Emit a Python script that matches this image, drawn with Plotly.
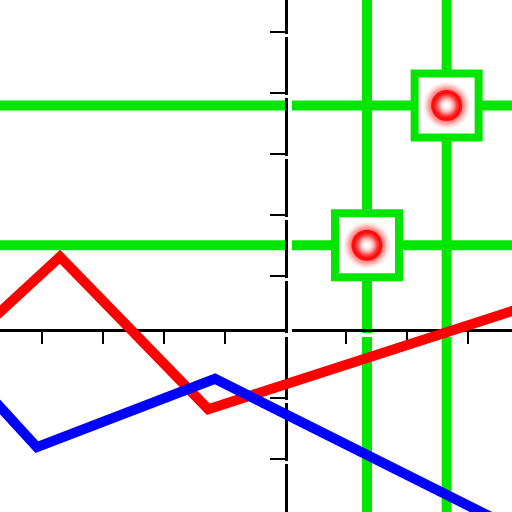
import plotly.graph_objects as go

# two polylines (data units, one tick per unit)
red_x = [-5.19, -3.71, -1.27, 4.19]
red_y = [-0.05, 1.31, -1.19, 0.57]
blue_x = [-5.02, -4.09, -1.16, 4.51]
blue_y = [-0.80, -1.81, -0.69, -3.52]

# the two boxed points
box_x = [1.34, 2.65]
box_y = [1.50, 3.79]

x_ticks = [-4, -3, -2, -1, 1, 2, 3]
y_ticks = [-2, -1, 1, 2, 3, 4, 5]

x_range = [-4.696, 3.725]
y_range = [-2.874, 5.52]

green = "#00e600"
shift = 3.5 / 61.0   # white copy of the axes sits a few px lower

fig = go.Figure()

fig.add_trace(go.Scatter(x=red_x, y=red_y, mode="lines",
                         line=dict(color="#ff0000", width=10)))
fig.add_trace(go.Scatter(x=blue_x, y=blue_y, mode="lines",
                         line=dict(color="#0000ff", width=10)))

# square boxes
fig.add_trace(go.Scatter(
    x=box_x, y=box_y, mode="markers",
    marker=dict(symbol="square", size=64, color="white",
                line=dict(color=green, width=8))
))
# soft red rings: fading layers, solid ring, white-to-red core, white centre
for size in [48, 42]:
    fig.add_trace(go.Scatter(
        x=box_x, y=box_y, mode="markers",
        marker=dict(symbol="circle", size=size, color="rgba(255,0,0,0)",
                    gradient=dict(type="radial", color="rgba(255,0,0,1)"))
    ))
fig.add_trace(go.Scatter(
    x=box_x, y=box_y, mode="markers",
    marker=dict(symbol="circle", size=31, color="rgba(255,0,0,0.85)")
))
fig.add_trace(go.Scatter(
    x=box_x, y=box_y, mode="markers",
    marker=dict(symbol="circle", size=27, color="#ff0000",
                gradient=dict(type="radial", color="white"))
))
fig.add_trace(go.Scatter(
    x=box_x, y=box_y, mode="markers",
    marker=dict(symbol="circle", size=20, color="rgba(255,255,255,0)",
                gradient=dict(type="radial", color="white"))
))

# empty trace so the white overlay axes get drawn
fig.add_trace(go.Scatter(x=[], y=[], xaxis="x2", yaxis="y2"))

# long green cross lines through the boxed points
shapes = []
for bx in box_x:
    shapes.append(dict(type="line", layer="below", xref="x", yref="paper",
                       x0=bx, x1=bx, y0=0, y1=1,
                       line=dict(color=green, width=10)))
for by in box_y:
    shapes.append(dict(type="line", layer="below", xref="paper", yref="y",
                       x0=0, x1=1, y0=by, y1=by,
                       line=dict(color=green, width=10)))

fig.update_layout(
    width=512, height=512,
    margin=dict(l=0, r=0, t=0, b=0),
    paper_bgcolor="white", plot_bgcolor="white",
    showlegend=False, hovermode=False,
    shapes=shapes,
    xaxis=dict(range=x_range, anchor="free", position=1 - 330.3 / 512,
               showline=True, linecolor="black", linewidth=3,
               ticks="outside", ticklen=12, tickwidth=2, tickcolor="black",
               tickmode="array", tickvals=x_ticks, showticklabels=False,
               showgrid=False, zeroline=False, layer="below traces"),
    yaxis=dict(range=y_range, anchor="free", position=285.5 / 512,
               showline=True, linecolor="black", linewidth=3,
               ticks="outside", ticklen=15, tickwidth=2, tickcolor="black",
               tickmode="array", tickvals=y_ticks, showticklabels=False,
               showgrid=False, zeroline=False, layer="below traces"),
    xaxis2=dict(range=x_range, overlaying="x", anchor="free",
                position=1 - 334.6 / 512,
                showline=True, linecolor="white", linewidth=3.5,
                ticks="", showticklabels=False, showgrid=False,
                zeroline=False, layer="below traces"),
    yaxis2=dict(range=[y_range[0] + shift, y_range[1] + shift],
                overlaying="y", anchor="free", position=290 / 512,
                showline=True, linecolor="white", linewidth=3.5,
                ticks="outside", ticklen=16, tickwidth=3, tickcolor="white",
                tickmode="array", tickvals=y_ticks, showticklabels=False,
                showgrid=False, zeroline=False, layer="below traces"),
)

# page has a default 8px body margin; drop it so the plot sits at the corner
fig.write_html("out.html", config={"displayModeBar": False},
               post_script="document.body.style.margin='0';")
